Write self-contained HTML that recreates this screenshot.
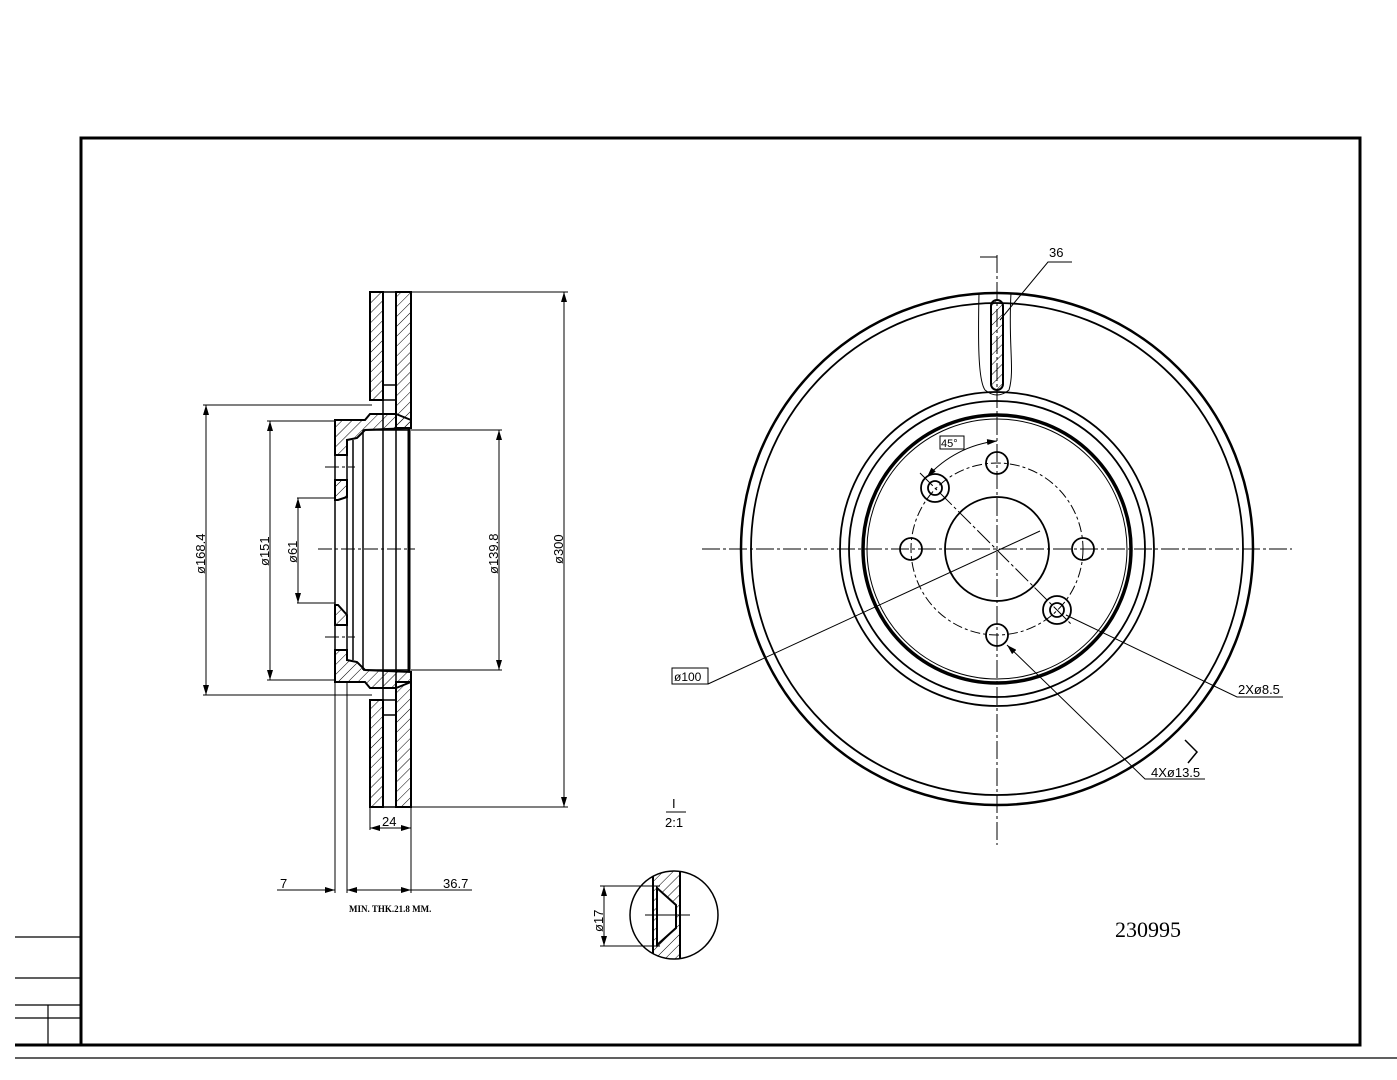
<!DOCTYPE html>
<html><head><meta charset="utf-8"><style>body{margin:0;background:#fff}svg{display:block}</style></head><body>
<svg width="1397" height="1080" viewBox="0 0 1397 1080" xmlns="http://www.w3.org/2000/svg" font-family="Liberation Sans, sans-serif">
<defs>
<pattern id="h" width="7" height="7" patternUnits="userSpaceOnUse" patternTransform="rotate(45)"><line x1="0" y1="0" x2="0" y2="7" stroke="#000" stroke-width="1"/></pattern>
<marker id="a" markerWidth="10" markerHeight="6" refX="10" refY="3" orient="auto-start-reverse" markerUnits="userSpaceOnUse"><path d="M0,0 L10,3 L0,6z" fill="#000"/></marker>
<clipPath id="dc"><circle cx="674" cy="915" r="44"/></clipPath>
</defs>
<g fill="none" stroke="#000">
<rect x="81" y="138" width="1279" height="907" stroke-width="3"/>
<line x1="15" y1="1058" x2="1397" y2="1058" stroke-width="1.2"/>
<line x1="15" y1="1045" x2="81" y2="1045" stroke-width="3"/>
<g stroke-width="1.2"><line x1="15" y1="937" x2="81" y2="937"/><line x1="15" y1="978" x2="81" y2="978"/><line x1="15" y1="1005" x2="81" y2="1005"/><line x1="15" y1="1018" x2="81" y2="1018"/><line x1="48" y1="1005" x2="48" y2="1045"/></g>

<g stroke-width="2" fill="url(#h)">
<rect x="370" y="292" width="13" height="108"/>
<rect x="396" y="292" width="15" height="136"/>
<path d="M335,420 L365,420 L370,414 L396,414 L411,420 L411,428 L365,430 L357,438 L347,440 L347,455 L335,455z"/>
<path d="M335,480 L347,480 L347,497 L338,500 L335,500z"/>
<path d="M335,605 L338,605 L347,615 L347,625 L335,625z"/>
<path d="M335,650 L347,650 L347,660 L357,662 L365,670 L411,672 L411,682 L396,688 L370,688 L365,682 L335,682z"/>
<rect x="396" y="682" width="15" height="125"/>
<rect x="370" y="700" width="13" height="107"/>
</g>
<g stroke-width="1.5">
<rect x="383" y="292" width="13" height="515"/>
<line x1="383" y1="400" x2="396" y2="400"/><line x1="383" y1="385" x2="396" y2="385"/>
<line x1="383" y1="700" x2="396" y2="700"/><line x1="383" y1="715" x2="396" y2="715"/>
<rect x="335" y="455" width="12" height="25"/>
<rect x="335" y="625" width="12" height="25"/>
<line x1="335" y1="500" x2="335" y2="605"/>
<line x1="347" y1="497" x2="347" y2="615"/>
<line x1="353" y1="440" x2="353" y2="660"/>
<line x1="363" y1="430" x2="363" y2="670"/>
<line x1="363" y1="430" x2="409" y2="430"/><line x1="363" y1="670" x2="409" y2="670"/>
</g>
<line x1="409" y1="428" x2="409" y2="672" stroke-width="3"/>
<g stroke-width="1" stroke-dasharray="14,3,3,3">
<line x1="318" y1="549" x2="415" y2="549"/>
<line x1="325" y1="467" x2="355" y2="467"/><line x1="325" y1="637" x2="355" y2="637"/>
</g>
<g stroke-width="1">
<line x1="203" y1="405" x2="372" y2="405"/><line x1="203" y1="695" x2="372" y2="695"/>
<line x1="206" y1="405" x2="206" y2="695" marker-start="url(#a)" marker-end="url(#a)"/>
<line x1="267" y1="421" x2="335" y2="421"/><line x1="267" y1="680" x2="335" y2="680"/>
<line x1="270" y1="421" x2="270" y2="680" marker-start="url(#a)" marker-end="url(#a)"/>
<line x1="297" y1="498" x2="335" y2="498"/><line x1="297" y1="603" x2="335" y2="603"/>
<line x1="298" y1="498" x2="298" y2="603" marker-start="url(#a)" marker-end="url(#a)"/>
<line x1="411" y1="292" x2="568" y2="292"/><line x1="411" y1="807" x2="568" y2="807"/>
<line x1="564" y1="292" x2="564" y2="807" marker-start="url(#a)" marker-end="url(#a)"/>
<line x1="411" y1="430" x2="502" y2="430"/><line x1="411" y1="670" x2="502" y2="670"/>
<line x1="499" y1="430" x2="499" y2="670" marker-start="url(#a)" marker-end="url(#a)"/>
<line x1="370" y1="807" x2="370" y2="830"/><line x1="411" y1="807" x2="411" y2="893"/>
<line x1="370" y1="828" x2="411" y2="828" marker-start="url(#a)" marker-end="url(#a)"/>
<line x1="335" y1="682" x2="335" y2="893"/><line x1="347" y1="682" x2="347" y2="893"/>
<line x1="277" y1="890" x2="335" y2="890" marker-end="url(#a)"/>
<line x1="347" y1="890" x2="411" y2="890" marker-start="url(#a)" marker-end="url(#a)"/>
<line x1="411" y1="890" x2="472" y2="890"/>
</g>

<g stroke-width="2.5">
<circle cx="997" cy="549" r="256"/>
<circle cx="997" cy="549" r="134" stroke-width="3.5"/>
</g>
<g stroke-width="1.8">
<circle cx="997" cy="549" r="246"/>
<circle cx="997" cy="549" r="157"/>
<circle cx="997" cy="549" r="148"/>
<circle cx="997" cy="549" r="130" stroke-width="1"/>
<circle cx="997" cy="549" r="52"/>
<circle cx="997" cy="463" r="11"/><circle cx="911" cy="549" r="11"/><circle cx="1083" cy="549" r="11"/><circle cx="997" cy="635" r="11"/>
<circle cx="935" cy="488" r="14"/><circle cx="935" cy="488" r="7"/>
<circle cx="1057" cy="610" r="14"/><circle cx="1057" cy="610" r="7"/>
</g>
<circle cx="997" cy="549" r="86" stroke-width="1" stroke-dasharray="10,3,3,3"/>
<g stroke-width="1" stroke-dasharray="18,3,3,3">
<line x1="997" y1="255" x2="997" y2="845"/>
<line x1="702" y1="549" x2="1292" y2="549"/>
<line x1="920" y1="473" x2="1072" y2="625"/>
</g>
<path d="M979,293 C978,340 978,380 985,390 Q997,400 1009,390 C1015,370 1008,345 1011,293" stroke-width="1"/>
<rect x="991" y="300" width="12" height="90" rx="6" fill="url(#h)" stroke-width="2"/>
<g stroke-width="1">
<path d="M980,257 L997,257 L997,265"/>
<path d="M1000,320 L1048,262 L1072,262"/>
<path d="M927,477 A110,110 0 0 1 997,441" marker-start="url(#a)" marker-end="url(#a)"/>
<rect x="940" y="436" width="24" height="13"/>
<rect x="672" y="668" width="36" height="16"/>
<path d="M708,684 L1040,531"/>
<path d="M1066,615 L1237,697 L1283,697"/>
<path d="M1007,645 L1145,779 L1205,779" marker-start="url(#a)"/>
<path d="M1185,740 L1197,752 L1188,763" stroke-width="1.5"/>
<line x1="666" y1="812" x2="686" y2="812"/>
</g>
<g clip-path="url(#dc)">
<path d="M653,860 L680,860 L680,970 L653,970z" fill="url(#h)" stroke="none"/>
<path d="M657,888 L676,905 L676,928 L657,945z" fill="#fff" stroke-width="2"/>
<line x1="653" y1="860" x2="653" y2="970" stroke-width="2"/>
<line x1="680" y1="860" x2="680" y2="970" stroke-width="2"/>
</g>
<circle cx="674" cy="915" r="44" stroke-width="1.5"/>
<line x1="645" y1="915" x2="690" y2="915" stroke-width="1"/>
<g stroke-width="1"><line x1="600" y1="886" x2="660" y2="886"/><line x1="600" y1="946" x2="660" y2="946"/>
<line x1="604" y1="886" x2="604" y2="946" marker-start="url(#a)" marker-end="url(#a)"/></g>
</g>
<g font-size="13" fill="#000">
<text transform="translate(205,574) rotate(-90)">ø168.4</text>
<text transform="translate(269,566) rotate(-90)">ø151</text>
<text transform="translate(297,563) rotate(-90)">ø61</text>
<text transform="translate(498,574) rotate(-90)">ø139.8</text>
<text transform="translate(563,564) rotate(-90)">ø300</text>
<text transform="translate(603,932) rotate(-90)">ø17</text>
<text x="382" y="826">24</text>
<text x="280" y="888">7</text>
<text x="443" y="888">36.7</text>
<text x="1049" y="257">36</text>
<text x="941" y="447" font-size="11">45°</text>
<text x="674" y="681" font-size="12">ø100</text>
<text x="1238" y="694">2Xø8.5</text>
<text x="1151" y="777">4Xø13.5</text>
<text x="672" y="808">I</text>
<text x="665" y="827">2:1</text>
<text x="349" y="912" font-family="Liberation Serif, serif" font-size="9" font-weight="bold">MIN.  THK.21.8  MM.</text>
<text x="1115" y="937" font-family="Liberation Serif, serif" font-size="22">230995</text>
</g>
</svg>
</body></html>
